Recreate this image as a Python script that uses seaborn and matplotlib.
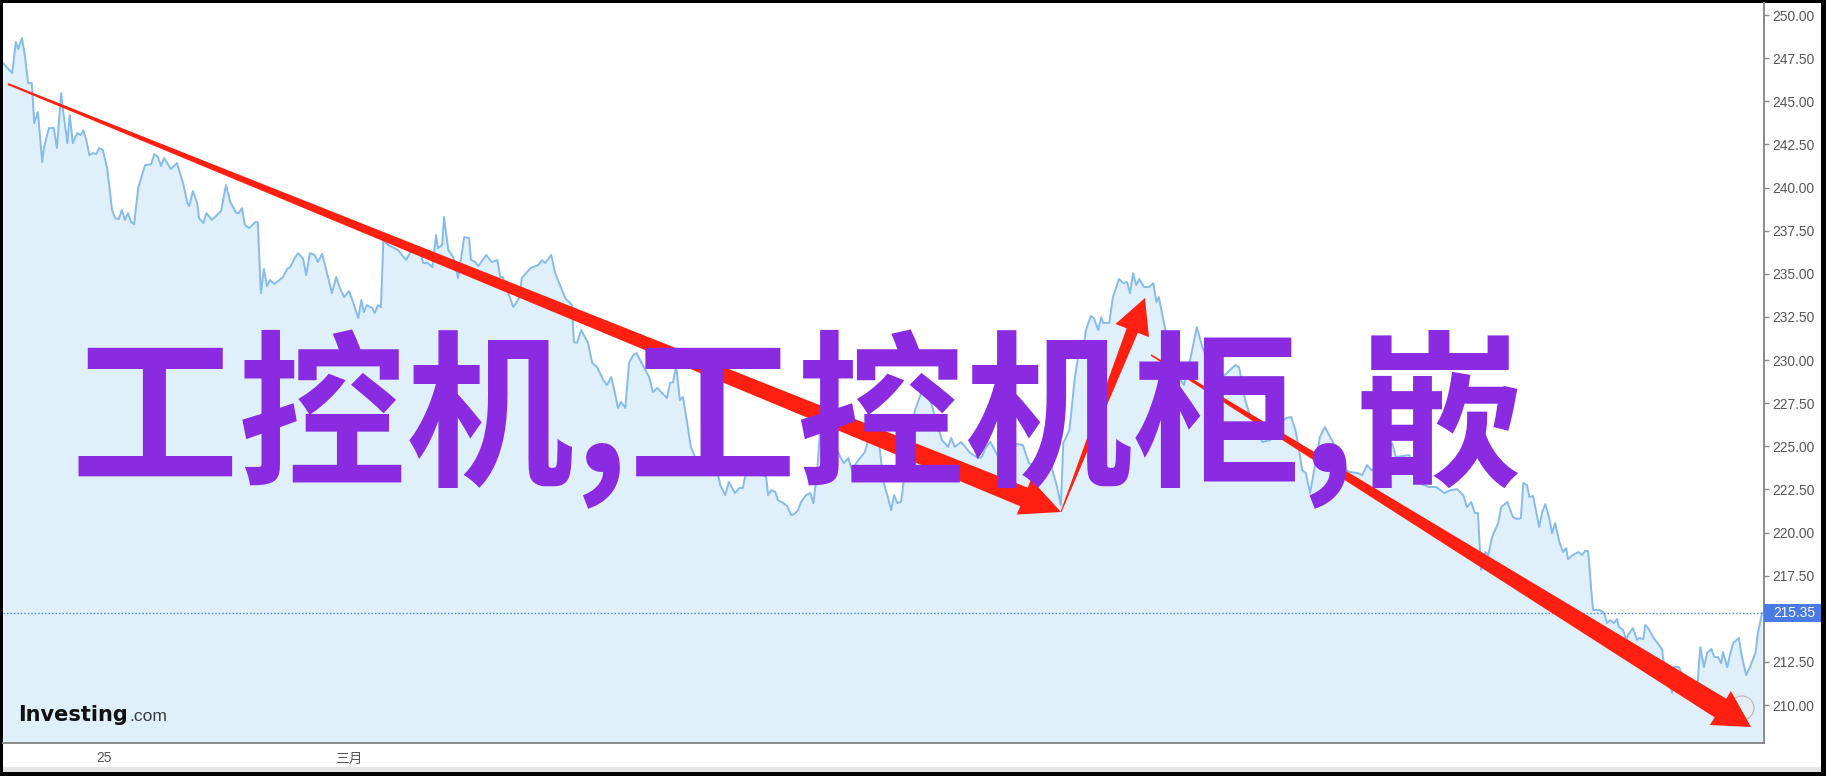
import matplotlib
matplotlib.use("Agg")
import matplotlib.pyplot as plt
from matplotlib.patches import Polygon, Rectangle, Circle
import numpy as np
import pandas as pd
import seaborn as sns

W, H = 1826, 776

# time in days after the 25th, closing price
days = [
    -1.65, -1.50, -1.44, -1.40, -1.34, -1.29, -1.24, -1.18, -1.14, -1.08,
    -1.01, -0.98, -0.90, -0.82, -0.77, -0.70, -0.67, -0.60, -0.56, -0.51,
    -0.44, -0.38, -0.34, -0.29, -0.24, -0.18, -0.13, -0.08, -0.02, 0.05,
    0.08, 0.13, 0.18, 0.24, 0.29, 0.34, 0.39, 0.44, 0.49, 0.56,
    0.67, 0.77, 0.82, 0.88, 0.93, 0.98, 1.09, 1.19, 1.29, 1.36,
    1.39, 1.45, 1.52, 1.55, 1.62, 1.67, 1.76, 1.91, 1.99, 2.06,
    2.16, 2.20, 2.25, 2.30, 2.37, 2.47, 2.51, 2.56, 2.61, 2.66,
    2.71, 2.78, 2.92, 2.99, 3.04, 3.12, 3.17, 3.25, 3.30, 3.36,
    3.44, 3.49, 3.56, 3.66, 3.72, 3.79, 3.85, 3.92, 4.00, 4.07,
    4.15, 4.20, 4.24, 4.29, 4.38, 4.42, 4.47, 4.52, 4.56, 4.64,
    4.80, 4.93, 5.03, 5.14, 5.21, 5.29, 5.36, 5.42, 5.45, 5.52,
    5.55, 5.62, 5.70, 5.78, 5.88, 5.96, 5.99, 6.06, 6.11, 6.24,
    6.33, 6.42, 6.47, 6.51, 6.68, 6.73, 6.78, 6.82, 6.96, 7.09,
    7.15, 7.20, 7.30, 7.36, 7.43, 7.53, 7.64, 7.67, 7.72, 7.79,
    7.90, 7.97, 8.05, 8.15, 8.21, 8.28, 8.34, 8.39, 8.44, 8.51,
    8.57, 8.64, 8.69, 8.77, 8.90, 8.96, 9.03, 9.11, 9.19, 9.24,
    9.29, 9.34, 9.40, 9.45, 9.52, 9.58, 9.65, 9.81, 9.98, 10.06,
    10.14, 10.20, 10.30, 10.37, 10.43, 10.47, 10.58, 10.69, 10.81, 10.84,
    10.89, 10.96, 11.00, 11.09, 11.15, 11.22, 11.27, 11.33, 11.38, 11.46,
    11.53, 11.58, 11.64, 11.69, 11.82, 11.93, 12.02, 12.08, 12.15, 12.21,
    12.28, 12.42, 12.49, 12.64, 12.69, 12.73, 12.80, 12.85, 12.90, 12.95,
    13.01, 13.08, 13.14, 13.24, 13.34, 13.40, 13.49, 13.58, 13.68, 13.78,
    13.83, 13.89, 13.99, 14.06, 14.14, 14.27, 14.33, 14.40, 14.47, 14.61,
    14.71, 14.82, 15.00, 15.10, 15.31, 15.45, 15.56, 15.62, 15.66, 15.76,
    15.85, 15.90, 15.97, 16.03, 16.11, 16.16, 16.23, 16.28, 16.31, 16.41,
    16.47, 16.57, 16.64, 16.70, 16.75, 16.80, 16.85, 16.90, 16.98, 17.06,
    17.13, 17.18, 17.22, 17.32, 17.44, 17.53, 17.63, 17.73, 17.84, 17.93,
    18.01, 18.14, 18.25, 18.38, 18.47, 18.53, 18.63, 18.69, 18.79, 18.91,
    19.04, 19.17, 19.30, 19.38, 19.45, 19.51, 19.56, 19.62, 19.69, 19.77,
    19.85, 19.93, 20.07, 20.18, 20.28, 20.34, 20.47, 20.54, 20.62, 20.69,
    20.78, 20.90, 21.03, 21.09, 21.31, 21.47, 21.63, 21.75, 21.88, 21.98,
    22.09, 22.19, 22.25, 22.32, 22.38, 22.43, 22.48, 22.55, 22.60, 22.66,
    22.76, 22.81, 22.91, 23.00, 23.07, 23.13, 23.17, 23.23, 23.27, 23.33,
    23.43, 23.48, 23.53, 23.59, 23.64, 23.69, 23.76, 23.82, 23.87, 23.90,
    23.98, 24.07, 24.13, 24.18, 24.23, 24.28, 24.31, 24.42, 24.49, 24.54,
    24.59, 24.65, 24.70, 24.73, 24.80, 24.85, 24.88, 24.96, 25.03, 25.06,
    25.13, 25.16, 25.21, 25.29, 25.36, 25.40, 25.44, 25.45, 25.53, 25.60,
    25.63, 25.71, 25.81, 25.89, 26.01, 26.06, 26.12, 26.17, 26.24, 26.29,
    26.35, 26.40, 26.43, 26.50, 26.55, 26.60, 26.69, 26.74, 26.81, 26.87,
    26.96, 27.00, 27.07,
]
price = [
    247.22, 246.64, 248.44, 248.03, 248.67, 247.57, 246.06, 246.06, 243.74, 244.38,
    241.48, 242.35, 243.45, 243.45, 242.29, 245.48, 244.49, 242.58, 244.20, 242.58,
    243.16, 243.04, 243.33, 242.75, 241.88, 242.00, 241.94, 242.29, 242.17, 241.13,
    240.26, 238.70, 238.23, 238.17, 238.70, 238.12, 238.52, 238.00, 237.88, 240.03,
    241.30, 241.36, 241.94, 241.77, 241.25, 241.71, 241.07, 241.42, 240.26, 239.10,
    238.93, 239.80, 239.10, 238.23, 237.94, 238.52, 238.12, 238.64, 240.15, 239.16,
    238.52, 238.52, 238.81, 237.83, 237.65, 238.00, 238.00, 233.88, 235.28, 234.29,
    234.64, 234.41, 234.81, 235.28, 235.39, 235.97, 236.20, 235.86, 234.93, 236.20,
    236.09, 235.68, 236.15, 234.75, 233.88, 234.81, 234.17, 233.65, 234.00, 233.31,
    232.43, 233.48, 232.78, 233.19, 233.01, 232.72, 233.19, 233.07, 236.96, 236.67,
    236.38, 235.80, 236.43, 236.55, 235.62, 235.62, 235.39, 237.25, 236.49, 236.67,
    238.29, 236.38, 235.97, 234.75, 237.13, 237.07, 235.80, 235.68, 235.45, 236.09,
    235.68, 235.80, 234.81, 234.81, 233.07, 233.31, 233.65, 234.75, 235.33, 235.51,
    235.80, 235.62, 236.09, 235.10, 234.46, 233.59, 233.19, 231.04, 230.99, 231.74,
    230.99, 229.83, 229.59, 228.84, 228.55, 229.01, 228.09, 227.22, 227.57, 227.22,
    229.83, 230.29, 230.41, 229.88, 229.01, 228.14, 228.38, 228.09, 227.80, 228.67,
    228.72, 229.71, 227.68, 227.86, 226.35, 224.96, 224.38, 223.62, 224.09, 222.75,
    222.17, 222.93, 222.29, 222.58, 222.58, 223.33, 223.33, 223.45, 223.22, 222.17,
    222.46, 222.35, 221.88, 221.71, 221.54, 221.01, 221.07, 221.30, 221.77, 222.17,
    222.29, 221.71, 223.45, 225.94, 226.23, 225.07, 224.38, 224.03, 224.32, 223.62,
    224.03, 224.67, 225.54, 225.54, 224.03, 222.87, 222.00, 221.30, 222.17, 221.71,
    221.77, 223.62, 225.36, 227.10, 228.09, 228.26, 227.68, 226.52, 225.36, 224.96,
    225.48, 224.96, 225.25, 224.96, 224.61, 224.32, 224.38, 224.96, 225.25, 224.32,
    223.62, 225.19, 225.07, 224.03, 223.62, 224.03, 222.64, 221.59, 225.19, 225.94,
    229.01, 230.17, 230.12, 231.74, 232.55, 232.43, 231.74, 232.49, 232.15, 232.15,
    233.65, 234.70, 234.46, 234.52, 233.88, 235.04, 234.35, 234.70, 234.23, 234.23,
    234.46, 233.36, 233.65, 231.86, 230.00, 229.13, 228.55, 230.00, 231.91, 230.75,
    230.12, 229.30, 228.96, 229.42, 229.71, 229.59, 227.68, 226.99, 226.23, 225.25,
    225.36, 226.23, 226.64, 226.70, 225.94, 224.78, 223.62, 223.45, 222.29, 223.91,
    225.54, 226.12, 225.19, 224.32, 223.62, 223.51, 223.45, 223.33, 223.91, 223.62,
    223.80, 224.20, 225.19, 224.38, 224.49, 222.87, 222.64, 222.64, 222.29, 222.46,
    222.52, 222.17, 221.48, 221.77, 221.13, 221.13, 217.83, 218.87, 218.70, 219.74,
    220.55, 221.48, 221.77, 220.90, 220.78, 220.84, 222.87, 222.75, 222.06, 222.12,
    220.32, 221.19, 221.65, 220.90, 219.97, 220.55, 219.45, 218.87, 219.10, 218.46,
    218.70, 218.87, 218.70, 218.93, 218.93, 216.67, 215.51, 215.51, 215.33, 214.75,
    214.93, 214.75, 214.99, 214.52, 214.35, 213.77, 214.06, 214.46, 213.77, 213.88,
    213.83, 214.64, 214.46, 213.94, 213.60, 213.42, 213.19, 212.72, 211.74, 210.70,
    212.20, 212.20, 211.45, 210.87, 211.04, 213.36, 212.20, 213.01, 213.25, 212.78,
    212.78, 212.43, 213.07, 212.20, 213.01, 213.60, 213.88, 212.78, 211.74, 212.20,
    213.01, 214.17, 215.35,
]
last_price = 215.35

y_ticks = [210.0, 212.5, 215.0, 217.5, 220.0, 222.5, 225.0, 227.5, 230.0,
           232.5, 235.0, 237.5, 240.0, 242.5, 245.0, 247.5, 250.0]
x_tick_days = [0, 2, 4, 6, 8, 9.9, 11.9, 13.9, 15.9, 17.9, 19.9, 21.9, 23.9, 25.7]
x_tick_labels = ['25', '', '三月', '', '', '', '', '', '', '', '', '', '', '']
overlay_text = '工控机,工控机柜,嵌'

sns.set_style('white')
plt.rcParams['font.family'] = ['Liberation Sans', 'Noto Sans CJK SC', 'DejaVu Sans']


def fpos(x, y):
    # pixel position (from top-left) -> figure fraction
    return x / W, 1 - y / H


fig = plt.figure(figsize=(W / 100, H / 100), dpi=100, facecolor='black')

# white canvas with grey footer strip inside the black frame
fig.add_artist(Rectangle(fpos(3, 767), 1818 / W, 764 / H, transform=fig.transFigure,
                         facecolor='white', edgecolor='none', zorder=-2))
fig.add_artist(Rectangle(fpos(3, 772), 1818 / W, 5 / H, transform=fig.transFigure,
                         facecolor='#e4e4e4', edgecolor='none', zorder=-2))

ax = fig.add_axes([3 / W, 1 - 743 / H, 1761 / W, 740 / H])
ax.set_facecolor('white')

df = pd.DataFrame({'day': days, 'price': price})
y_bottom, y_top = 207.80, 250.70
ax.fill_between(df['day'], df['price'], y_bottom, color='#e0f0fa', lw=0, zorder=1)
sns.lineplot(data=df, x='day', y='price', ax=ax, color='#86bbea', linewidth=1.4, zorder=2)
ax.axhline(last_price, color='#4d7fe6', lw=1, ls=(0, (1, 1.5)), zorder=2)

ax.set_xlim(-1.65, 27.10)
ax.set_ylim(y_bottom, y_top)
ax.set_xlabel('')
ax.set_ylabel('')

for s in ['left', 'top']:
    ax.spines[s].set_visible(False)
for s in ['right', 'bottom']:
    ax.spines[s].set_visible(True)
    ax.spines[s].set_color('#8a8a8a')
    ax.spines[s].set_linewidth(1.4)

ax.yaxis.tick_right()
ax.set_yticks(y_ticks)
# the 215.00 label sits under the last-price badge
ax.set_yticklabels(['' if abs(v - last_price) < 1 else f'{v:.2f}' for v in y_ticks])
ax.set_xticks(x_tick_days)
ax.set_xticklabels(x_tick_labels)
ax.tick_params(axis='y', length=3.6, width=1, color='#8a8a8a', labelcolor='#555555',
               labelsize=9.9, pad=2.5)
ax.tick_params(axis='x', length=3.6, width=1, color='#8a8a8a', labelcolor='#555555',
               labelsize=9.9, pad=2.5)

# last price badge on the price scale
yb = ax.transData.transform((0, last_price))[1] / H
fig.add_artist(Rectangle((1764 / W, yb - 9 / H), 57 / W, 18 / H, transform=fig.transFigure,
                         facecolor='#4a7be3', edgecolor='none', zorder=5))
fig.text(1773 / W, yb, f'{last_price:.2f}', color='white', fontsize=9.9,
         ha='left', va='center', zorder=6)


# hand drawn red arrows
def taper_arrow(x0, y0, x1, y1, w0, w1, head_len, head_w):
    p0 = np.array([x0, y0], float)
    p1 = np.array([x1, y1], float)
    u = (p1 - p0) / np.hypot(*(p1 - p0))
    n = np.array([-u[1], u[0]])
    base = p1 - u * head_len
    pts = [p0 + n * w0 / 2, base + n * w1 / 2, base + n * head_w / 2, p1,
           base - n * head_w / 2, base - n * w1 / 2, p0 - n * w0 / 2]
    pts = [fpos(x, y) for x, y in pts]
    fig.add_artist(Polygon(pts, closed=True, transform=fig.transFigure,
                           facecolor='#ff2012', edgecolor='none', zorder=3))


fig.add_artist(Circle((1742 / 100, (H - 708) / 100), 0.12, transform=fig.dpi_scale_trans,
                      facecolor='#e6eef4', edgecolor='#b8b8b8', lw=0.8, zorder=2.5))

taper_arrow(8, 84, 1061, 512, 2, 20, 40, 38)
taper_arrow(1061, 512, 1145, 298, 1, 12, 35, 36)
taper_arrow(1151, 355, 1751, 727, 1.5, 22, 36, 40)

# big purple caption
fig.text(70 / W, 1 - 473 / H, overlay_text, fontsize=121, fontweight='bold',
         color='#8a2be2', family=['Noto Sans CJK SC'], ha='left', va='baseline', zorder=10)

# Investing.com logo
fig.text(18 / W, 1 - 721 / H, 'Investing', fontsize=15, fontweight='bold',
         color='#111111', family=['DejaVu Sans'], ha='left', va='baseline', zorder=4)
fig.text(129 / W, 1 - 721 / H, '.com', fontsize=12.5, color='#3a3a3a',
         ha='left', va='baseline', zorder=4)

fig.savefig('out.png', dpi=100, facecolor='black')
